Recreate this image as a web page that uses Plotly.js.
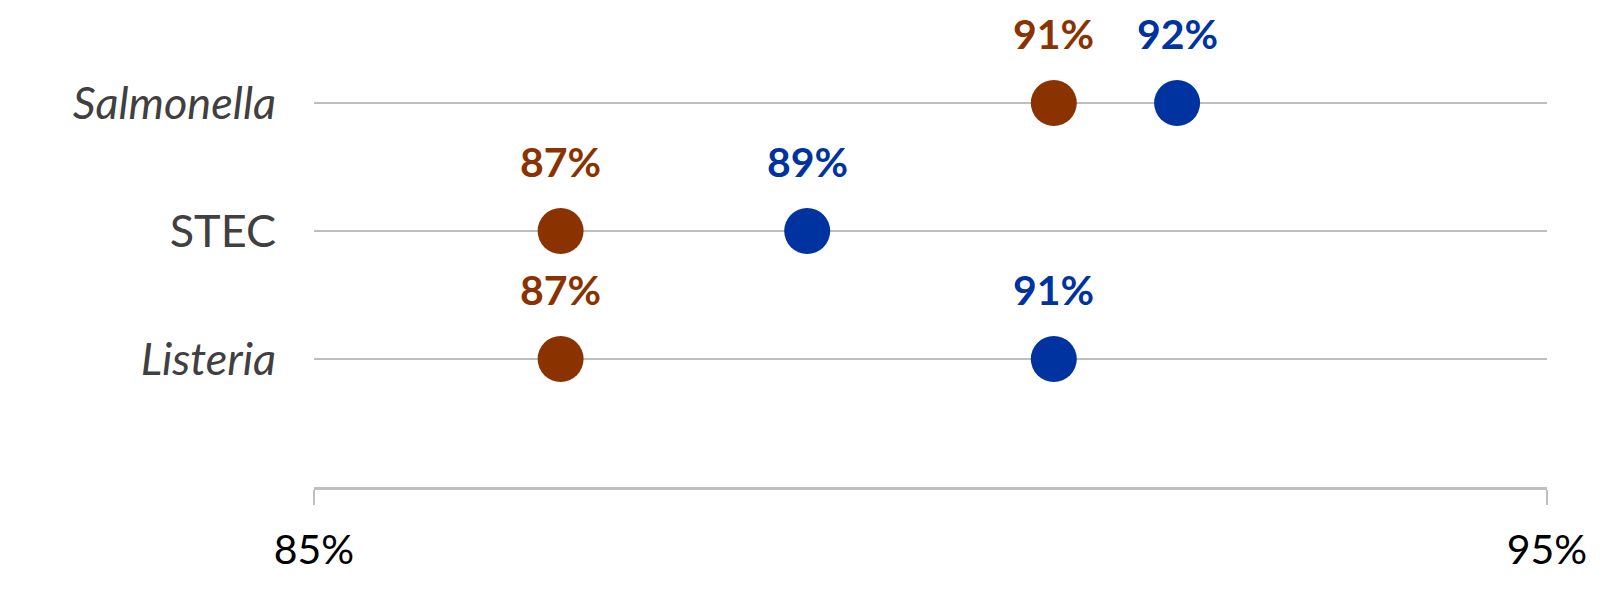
<!DOCTYPE html>
<html>
<head>
<meta charset="utf-8">
<script src="https://cdn.plot.ly/plotly-3.0.1.min.js"></script>
<style>html,body{margin:0;padding:0;background:#fff;}#chart{width:1613px;height:608px;}</style>
</head>
<body>
<div id="chart"></div>
<script>
const categories = ['Listeria', 'STEC', 'Salmonella'];
const categoryLabels = ['<i>Listeria</i>', 'STEC', '<i>Salmonella</i>'];
const seriesA = [87, 87, 91];   // brown
const seriesB = [91, 89, 92];   // blue
const xTicks = [85, 95];
const xTickLabels = xTicks.map(v => v + '%');

const brown = '#8B3300';
const blue = '#0033A0';
const FONT = 'Lato, "Open Sans", sans-serif';

const traces = [
  {x: seriesA, y: categories, type: 'scatter', mode: 'markers', name: 'Series A',
   marker: {color: brown, size: 46}, hoverinfo: 'skip', cliponaxis: false},
  {x: seriesB, y: categories, type: 'scatter', mode: 'markers', name: 'Series B',
   marker: {color: blue, size: 46}, hoverinfo: 'skip', cliponaxis: false}
];

const annotations = [];
[[seriesA, brown], [seriesB, blue]].forEach(([vals, col]) => {
  vals.forEach((v, i) => {
    annotations.push({x: v, y: categories[i], xref: 'x', yref: 'y', text: '<b>' + v + '%</b>',
      showarrow: false, yshift: 70, font: {family: FONT, size: 41, color: col}});
  });
});

const layout = {
  width: 1613, height: 608,
  margin: {l: 314, r: 66, t: 10, b: 121},
  paper_bgcolor: '#fff', plot_bgcolor: '#fff',
  showlegend: false,
  xaxis: {range: [85, 95], tickvals: xTicks, ticktext: xTickLabels, showgrid: false, zeroline: false,
    showline: true, linecolor: '#bfbfbf', linewidth: 2.5,
    ticks: 'outside', ticklen: 15, tickwidth: 2.5, tickcolor: '#bfbfbf', ticklabelstandoff: 10,
    tickfont: {family: FONT, size: 41, color: '#000'}},
  yaxis: {type: 'category', categoryarray: categories, range: [-1, 2.7266],
    tickvals: categories, ticktext: categoryLabels,
    showgrid: true, gridcolor: '#bfbfbf', gridwidth: 2.5, showline: false, zeroline: false,
    ticks: 'outside', ticklen: 28, tickcolor: 'rgba(0,0,0,0)',
    tickfont: {family: FONT, size: 45, color: '#404040'}},
  annotations: annotations
};

Plotly.newPlot('chart', traces, layout, {displayModeBar: false, staticPlot: true});
</script>
</body>
</html>
